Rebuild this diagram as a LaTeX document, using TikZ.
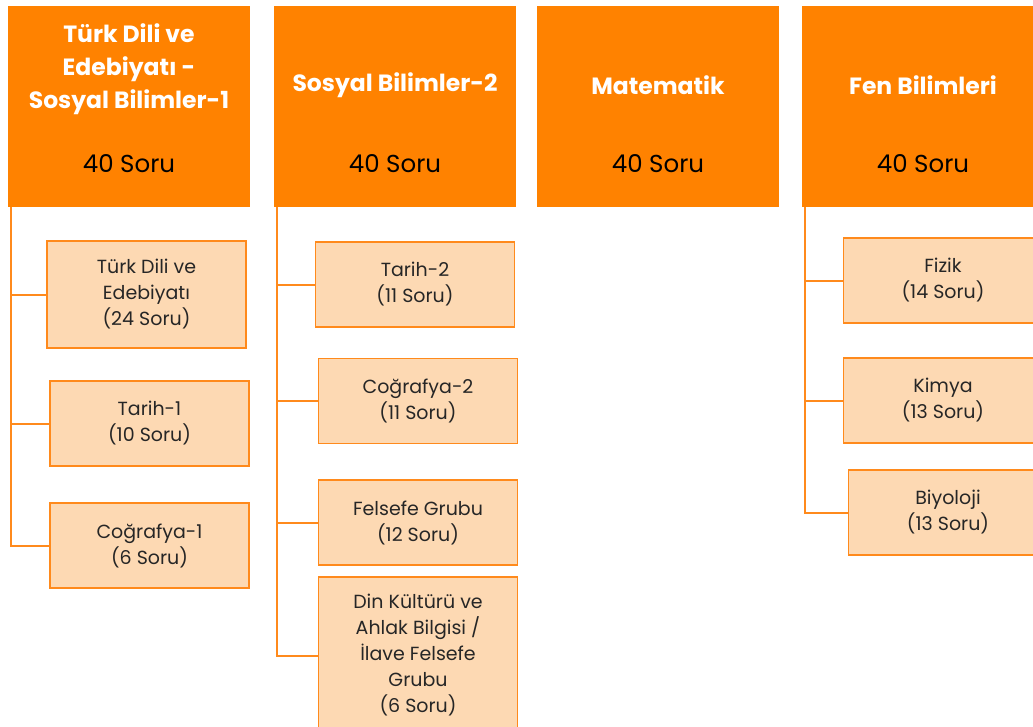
\documentclass[tikz,border=0pt]{standalone}
\usepackage{fontspec}
\setmainfont{Poppins}
\definecolor{headorange}{HTML}{FF8200}
\definecolor{subfill}{HTML}{FDD9B3}
\definecolor{subline}{HTML}{FF8A1C}
\tikzset{
  headbox/.style={fill=headorange, minimum width=242pt, minimum height=201pt, inner sep=0pt},
  headtitle/.style={text=white, align=center, yshift=-2pt, font=\fontsize{23.5}{33}\selectfont\bfseries},
  headcount/.style={font=\fontsize{24.5}{26}\selectfont},
  subbox/.style={draw=subline, line width=1.6pt, fill=subfill, minimum width=199pt, minimum height=85pt,
    align=center, font=\fontsize{19}{26}\selectfont, text=black!85},
  tree/.style={draw=subline, line width=2pt}
}
\begin{document}
\begin{tikzpicture}[x=1pt, y=-1pt]
  \useasboundingbox (0,0) rectangle (1033,726);
  \clip (0,0) rectangle (1033,726);

  % Define header boxes
  \node[headbox] (H1) at (129,106.5) {};
  \node[headbox] (H2) at (395,106.5) {};
  \node[headbox] (H3) at (658,106.5) {};
  \node[headbox] (H4) at (923,106.5) {};

  % Header texts
  \node[headtitle] (T1) at (129,67) {Türk Dili ve\\Edebiyatı -\\Sosyal Bilimler-1};
  \node[headtitle] (T2) at (395,83) {Sosyal Bilimler-2};
  \node[headtitle] (T3) at (658,83) {Matematik};
  \node[headtitle] (T4) at (923,83) {Fen Bilimleri};
  \node[headcount] (N1) at (129,164) {40 Soru};
  \node[headcount] (N2) at (395,164) {40 Soru};
  \node[headcount] (N3) at (658,164) {40 Soru};
  \node[headcount] (N4) at (923,164) {40 Soru};

  % Define sub boxes
  \node[subbox, minimum height=107pt] (TDE) at (146.5,294.5) {Türk Dili ve\\Edebiyatı\\(24 Soru)};
  \node[subbox] (TAR1) at (149.5,423.5) {Tarih-1\\(10 Soru)};
  \node[subbox] (COG1) at (149.5,545.5) {Coğrafya-1\\(6 Soru)};

  \node[subbox] (TAR2) at (415,284.5) {Tarih-2\\(11 Soru)};
  \node[subbox] (COG2) at (418,401) {Coğrafya-2\\(11 Soru)};
  \node[subbox] (FEL) at (418,522.5) {Felsefe Grubu\\(12 Soru)};
  \node[subbox, minimum height=157pt] (DIN) at (418,655.5) {Din Kültürü ve\\Ahlak Bilgisi /\\İlave Felsefe\\Grubu\\(6 Soru)};

  \node[subbox] (FIZ) at (943,280.5) {Fizik\\(14 Soru)};
  \node[subbox] (KIM) at (943,400.5) {Kimya\\(13 Soru)};
  \node[subbox] (BIY) at (948,512.5) {Biyoloji\\(13 Soru)};

  % Draw tree lines
  \foreach \h/\s in {H1/TDE, H1/TAR1, H1/COG1, H2/TAR2, H2/COG2, H2/FEL, H2/DIN, H4/FIZ, H4/KIM, H4/BIY}
    \draw[tree] ([xshift=3pt]\h.south west) |- (\s.west);

\end{tikzpicture}
\end{document}
